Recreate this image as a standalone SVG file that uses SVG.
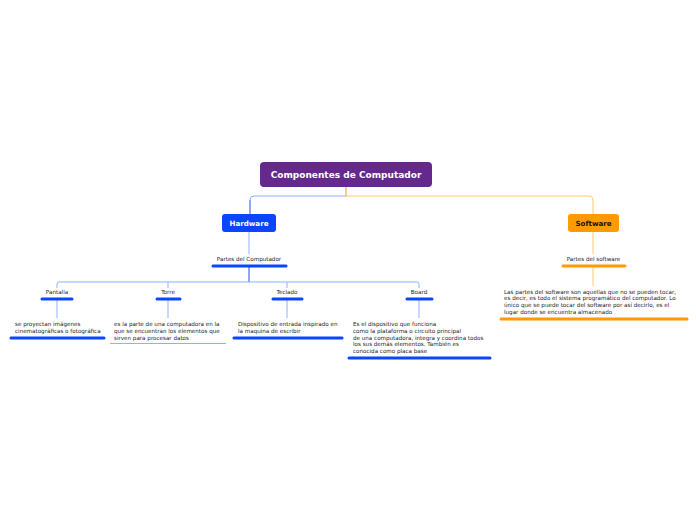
<svg xmlns="http://www.w3.org/2000/svg" width="696" height="520" viewBox="0 0 696 520">
<style>
.t{font-family:"DejaVu Sans","Liberation Sans",sans-serif;font-size:5.6px;fill:#222}
.b{font-family:"DejaVu Sans","Liberation Sans",sans-serif;font-weight:bold}
.lb{stroke:#8fb0ff;stroke-width:1;fill:none}
.db{stroke:#1f50f5;stroke-width:1;fill:none}
.lo{stroke:#ffc870;stroke-width:1;fill:none}
.ob{stroke:#ff9a00;stroke-width:1;fill:none}
.ub{stroke:#0a45ff;stroke-width:3;stroke-linecap:round}
.uo{stroke:#ff9a00;stroke-width:3;stroke-linecap:round}
</style>
<rect width="696" height="520" fill="#fff"/>
<g id="connectors">
<path class="lb" d="M346 196 H254 Q250 196 250 200"/>
<path class="db" d="M250 200 V214"/>
<path class="ob" d="M346 187 V196"/>
<path class="lo" d="M346 196 H589 Q593 196 593 200 V214"/>
<path class="lb" d="M249 232 V254"/>
<path class="db" d="M249 266 V282"/>
<path class="lb" d="M57 288 V284 Q57 282 59 282 H417 Q419 282 419 284 V288"/>
<path class="lb" d="M168 282 V288 M287 282 V288"/>
<path class="lb" d="M57 300 V318 M168 300 V318 M287 300 V318 M419 300 V318"/>
<path class="lo" d="M593 232 V254 M593 267 V286"/>
</g>
<g id="root">
<rect x="260" y="162" width="172" height="25" rx="4" fill="#65298e"/>
<text class="b" x="346" y="178" font-size="9" fill="#fff" text-anchor="middle">Componentes de Computador</text>
</g>
<g id="hardware">
<rect x="222" y="214" width="54" height="18" rx="3" fill="#0a45ff"/>
<text class="b" x="249" y="226" font-size="7.1" fill="#fff" text-anchor="middle">Hardware</text>
</g>
<g id="software">
<rect x="568" y="214" width="51" height="18" rx="3" fill="#ff9a00"/>
<text class="b" x="593.5" y="226" font-size="7.1" fill="#111" text-anchor="middle">Software</text>
</g>
<g id="partes-computador">
<text class="t" x="249" y="261" text-anchor="middle">Partes del Computador</text>
<line class="ub" x1="213" y1="266" x2="286" y2="266"/>
</g>
<g id="partes-software">
<text class="t" x="593.5" y="261" text-anchor="middle">Partes del software</text>
<line class="uo" x1="563" y1="266" x2="625" y2="266"/>
</g>
<g id="pantalla">
<text class="t" x="57" y="294" text-anchor="middle">Pantalla</text>
<line class="ub" x1="42" y1="299" x2="72" y2="299"/>
</g>
<g id="torre">
<text class="t" x="168" y="294" text-anchor="middle">Torre</text>
<line class="ub" x1="157" y1="299" x2="180" y2="299"/>
</g>
<g id="teclado">
<text class="t" x="287" y="294" text-anchor="middle">Teclado</text>
<line class="ub" x1="273" y1="299" x2="302" y2="299"/>
</g>
<g id="board">
<text class="t" x="419" y="294" text-anchor="middle">Board</text>
<line class="ub" x1="407" y1="299" x2="432" y2="299"/>
</g>
<g id="pantalla-desc">
<text class="t" x="15" y="326">se proyectan imágenes</text>
<text class="t" x="15" y="333">cinematográficas o fotográfica</text>
<line class="ub" x1="11" y1="338" x2="104" y2="338"/>
</g>
<g id="torre-desc">
<text class="t" x="114" y="326">es la parte de una computadora en la</text>
<text class="t" x="114" y="333">que se encuentran los elementos que</text>
<text class="t" x="114" y="340">sirven para procesar datos</text>
<line class="lb" x1="110" y1="343.5" x2="226" y2="343.5"/>
</g>
<g id="teclado-desc">
<text class="t" x="238" y="326">Dispositivo de entrada inspirado en</text>
<text class="t" x="238" y="333">la maquina de escribir</text>
<line class="ub" x1="234" y1="338" x2="342" y2="338"/>
</g>
<g id="board-desc">
<text class="t" x="353" y="326">Es el dispositivo que funciona</text>
<text class="t" x="353" y="333">como la plataforma o circuito principal</text>
<text class="t" x="353" y="340">de una computadora, integra y coordina todos</text>
<text class="t" x="353" y="346">los sus demás elementos. También es</text>
<text class="t" x="353" y="353">conocida como placa base</text>
<line class="ub" x1="349" y1="358" x2="490" y2="358"/>
</g>
<g id="software-desc">
<text class="t" x="504" y="294">Las partes del software son aquellas que no se pueden tocar,</text>
<text class="t" x="504" y="300">es decir, es todo el sistema programático del computador. Lo</text>
<text class="t" x="504" y="307">único que se puede tocar del software por así decirlo, es el</text>
<text class="t" x="504" y="314">lugar donde se encuentra almacenado</text>
<line class="uo" x1="501" y1="319" x2="687" y2="319"/>
</g>
</svg>
